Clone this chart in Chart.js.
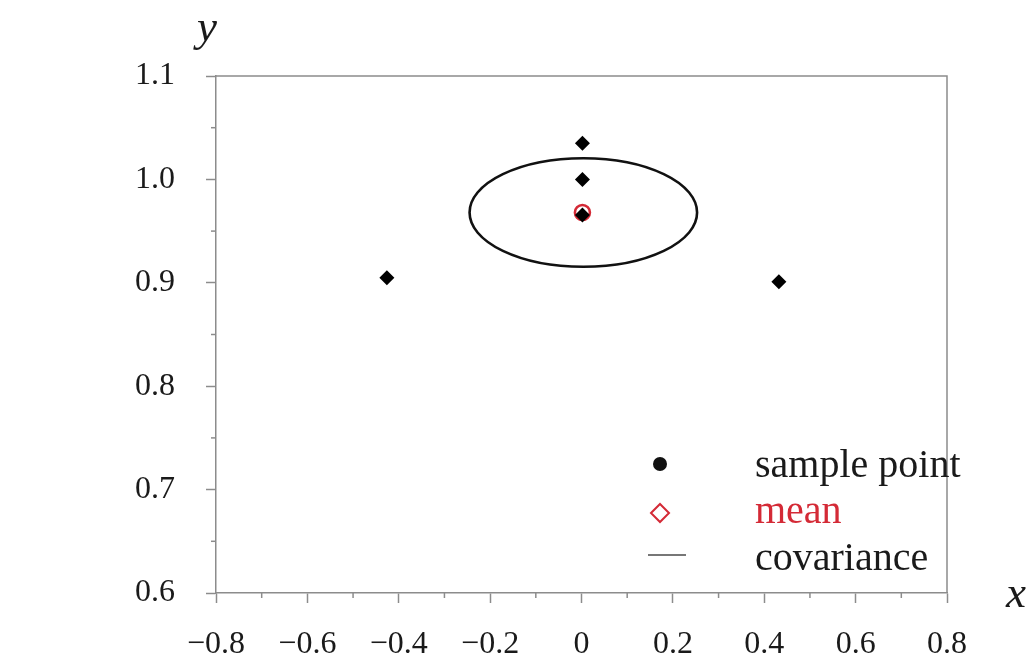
<!DOCTYPE html>
<html>
<head>
<meta charset="utf-8">
<title>Sample points, mean and covariance</title>
<script src="https://cdn.jsdelivr.net/npm/chart.js@4.4.1/dist/chart.umd.min.js"></script>
<style>
  html, body { margin: 0; padding: 0; background: #fff; }
  #wrap { width: 1032px; height: 661px; }
</style>
</head>
<body>
<div id="wrap"><canvas id="chart" width="1032" height="661"></canvas></div>
<script>
// values
const SAMPLE_X = [-0.426, 0.002, 0.002, 0.002, 0.432];
const SAMPLE_Y = [0.905, 1.035, 1.000, 0.9655, 0.901];
const MEAN_X = [0.002];
const MEAN_Y = [0.968];
const COV_CENTER = [0.004, 0.968];
const COV_RADII = [0.249, 0.0525];

const X_TICK_LABELS = ['\u22120.8', '\u22120.6', '\u22120.4', '\u22120.2', '0', '0.2', '0.4', '0.6', '0.8'];
const Y_TICK_LABELS = ['0.6', '0.7', '0.8', '0.9', '1.0', '1.1'];
const LEGEND_LABELS = ['sample point', 'mean', 'covariance'];
const AXIS_TITLES = ['x', 'y'];

const FONT = '"Liberation Serif", "Times New Roman", serif';
const AXIS_GREY = '#8c8c8c';
const INK = '#1a1a1a';
const RED = '#d42a36';

const toPoints = (xs, ys) => xs.map((x, i) => ({ x, y: ys[i] }));

// minor ticks: shorter marks drawn between the labelled ones
const minorTicks = {
  id: 'minorTicks',
  afterDraw(chart) {
    const { ctx } = chart;
    ctx.save();
    ctx.strokeStyle = AXIS_GREY;
    ctx.lineWidth = 1.5;
    const xs = chart.scales.x;
    xs.ticks.forEach((t, i) => {
      if (i % 2 === 0) return;
      const px = xs.getPixelForTick(i);
      ctx.beginPath();
      ctx.moveTo(px, xs.top);
      ctx.lineTo(px, xs.top + 5);
      ctx.stroke();
    });
    const ys = chart.scales.y;
    ys.ticks.forEach((t, i) => {
      if (i % 2 === 0) return;
      const py = ys.getPixelForTick(i);
      ctx.beginPath();
      ctx.moveTo(ys.right, py);
      ctx.lineTo(ys.right - 5, py);
      ctx.stroke();
    });
    // top and right edges of the frame
    const a = chart.chartArea;
    ctx.beginPath();
    ctx.moveTo(a.left, a.top);
    ctx.lineTo(a.right, a.top);
    ctx.lineTo(a.right, a.bottom);
    ctx.stroke();
    ctx.restore();
  },
};

const covarianceEllipse = {
  id: 'covarianceEllipse',
  beforeDatasetsDraw(chart) {
    const { ctx, scales } = chart;
    const cx = scales.x.getPixelForValue(COV_CENTER[0]);
    const cy = scales.y.getPixelForValue(COV_CENTER[1]);
    const rx = Math.abs(scales.x.getPixelForValue(COV_CENTER[0] + COV_RADII[0]) - cx);
    const ry = Math.abs(scales.y.getPixelForValue(COV_CENTER[1] + COV_RADII[1]) - cy);
    ctx.save();
    ctx.strokeStyle = '#111';
    ctx.lineWidth = 2.6;
    ctx.beginPath();
    ctx.ellipse(cx, cy, rx, ry, 0, 0, Math.PI * 2);
    ctx.stroke();
    ctx.restore();
  },
};

const legendAndTitles = {
  id: 'legendAndTitles',
  afterDraw(chart) {
    const { ctx } = chart;
    const a = chart.chartArea;
    ctx.save();

    // axis titles
    ctx.font = 'italic 45px ' + FONT;
    ctx.fillStyle = INK;
    ctx.textAlign = 'center';
    ctx.textBaseline = 'middle';
    ctx.fillText(AXIS_TITLES[0], a.right + 69, a.bottom + 2);
    ctx.fillText(AXIS_TITLES[1], a.left - 9, a.top - 47);

    // legend
    const markX = a.right - 287;
    const textX = a.right - 192;
    const rowY = [a.bottom - 129, a.bottom - 80, a.bottom - 38];
    const baseY = [a.bottom - 116, a.bottom - 70, a.bottom - 23];

    ctx.fillStyle = '#111';
    ctx.beginPath();
    ctx.arc(markX, rowY[0], 7, 0, Math.PI * 2);
    ctx.fill();

    ctx.strokeStyle = RED;
    ctx.lineWidth = 2;
    ctx.fillStyle = '#fff';
    Chart.helpers.drawPoint(ctx, { pointStyle: 'rectRot', radius: 9, borderWidth: 2 }, markX, rowY[1]);

    ctx.strokeStyle = '#777';
    ctx.lineWidth = 2;
    ctx.beginPath();
    ctx.moveTo(markX - 12, rowY[2]);
    ctx.lineTo(markX + 26, rowY[2]);
    ctx.stroke();

    ctx.font = '40px ' + FONT;
    ctx.textAlign = 'left';
    ctx.textBaseline = 'alphabetic';
    ctx.fillStyle = INK;
    ctx.fillText(LEGEND_LABELS[0], textX, baseY[0]);
    ctx.fillStyle = RED;
    ctx.fillText(LEGEND_LABELS[1], textX, baseY[1]);
    ctx.fillStyle = INK;
    ctx.fillText(LEGEND_LABELS[2], textX, baseY[2]);
    ctx.restore();
  },
};

const minorTickColor = (c) => (c.index % 2 === 0 ? AXIS_GREY : 'rgba(0,0,0,0)');

new Chart(document.getElementById('chart'), {
  type: 'scatter',
  data: {
    datasets: [
      {
        label: LEGEND_LABELS[0],
        data: toPoints(SAMPLE_X, SAMPLE_Y),
        pointStyle: 'rectRot',
        pointRadius: 7.5,
        pointHoverRadius: 7.5,
        backgroundColor: '#000',
        borderColor: '#000',
        borderWidth: 0,
      },
      {
        label: LEGEND_LABELS[1],
        data: toPoints(MEAN_X, MEAN_Y),
        pointStyle: 'circle',
        pointRadius: 7.5,
        pointHoverRadius: 7.5,
        backgroundColor: '#fff',
        borderColor: RED,
        borderWidth: 2.6,
      },
    ],
  },
  options: {
    responsive: false,
    devicePixelRatio: 1,
    animation: false,
    events: [],
    layout: { padding: { top: 76, right: 85, left: 0, bottom: 0 } },
    plugins: { legend: { display: false }, tooltip: { enabled: false } },
    scales: {
      x: {
        type: 'linear',
        min: -0.8,
        max: 0.8,
        afterFit: (s) => { s.height = 68; },
        border: { display: true, color: AXIS_GREY, width: 1.5 },
        grid: { drawOnChartArea: false, drawTicks: true, tickLength: 10, tickColor: minorTickColor, tickWidth: 1.5 },
        ticks: {
          stepSize: 0.1,
          autoSkip: false,
          maxRotation: 0,
          padding: 22,
          color: INK,
          font: { family: FONT, size: 32 },
          callback: (v, i) => (i % 2 === 0 ? X_TICK_LABELS[i / 2] : ''),
        },
      },
      y: {
        type: 'linear',
        min: 0.6,
        max: 1.1,
        afterFit: (s) => { s.width = 216; },
        border: { display: true, color: AXIS_GREY, width: 1.5 },
        grid: { drawOnChartArea: false, drawTicks: true, tickLength: 10, tickColor: minorTickColor, tickWidth: 1.5 },
        ticks: {
          stepSize: 0.05,
          autoSkip: false,
          padding: 31,
          color: INK,
          font: { family: FONT, size: 32 },
          callback: (v, i) => (i % 2 === 0 ? Y_TICK_LABELS[i / 2] : ''),
        },
      },
    },
  },
  plugins: [covarianceEllipse, minorTicks, legendAndTitles],
});
</script>
</body>
</html>
